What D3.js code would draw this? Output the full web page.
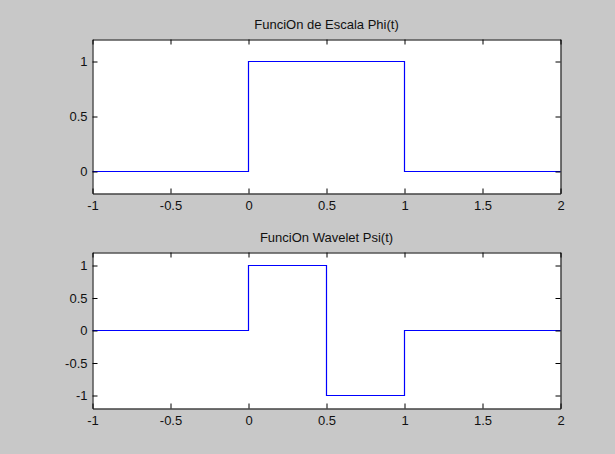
<!DOCTYPE html>
<html><head><meta charset="utf-8">
<script src="https://cdn.jsdelivr.net/npm/d3@7"></script>
<style>
html,body{margin:0;padding:0;background:#c8c8c8;}
svg{display:block;}
text{font-family:"Liberation Sans",Arial,sans-serif;font-size:13px;fill:#111;}
</style></head><body>
<script>
// Data
const titles = ["FunciOn de Escala Phi(t)", "FunciOn Wavelet Psi(t)"];
const phiT = [-1, 0, 0, 1, 1, 2];
const phiV = [0, 0, 1, 1, 0, 0];
const psiT = [-1, 0, 0, 0.5, 0.5, 1, 1, 2];
const psiV = [0, 0, 1, 1, -1, -1, 0, 0];
const xTicks = [-1, -0.5, 0, 0.5, 1, 1.5, 2];
const phiYTicks = [0, 0.5, 1];
const psiYTicks = [-1, -0.5, 0, 0.5, 1];
const phiYDomain = [-0.2, 1.2];
const psiYDomain = [-1.2, 1.2];

const W = 615, H = 454;
const svg = d3.select("body").append("svg").attr("width", W).attr("height", H);
svg.append("rect").attr("width", W).attr("height", H).attr("fill", "#c8c8c8");

const fmt = d => String(d);

function panel(top, bottom, t, v, yDom, yTicks, title) {
  const left = 92.5, right = 560.5;
  const x = d3.scaleLinear().domain([-1, 2]).range([left, right]);
  const y = d3.scaleLinear().domain(yDom).range([bottom, top]);
  const g = svg.append("g");
  g.append("rect").attr("x", left).attr("y", top).attr("width", right-left).attr("height", bottom-top)
    .attr("fill", "#fff");
  const line = d3.line().x((d,i)=>x(t[i])).y((d,i)=>y(v[i]));
  g.append("path").datum(v).attr("d", line).attr("fill","none").attr("stroke","#0000ff").attr("stroke-width",1.2);

  const axB = g.append("g").attr("transform",`translate(0,${bottom})`)
    .call(d3.axisBottom(x).tickValues(xTicks).tickFormat(fmt).tickSizeInner(-5).tickSizeOuter(0).tickPadding(7.5));
  const axT = g.append("g").attr("transform",`translate(0,${top})`)
    .call(d3.axisTop(x).tickValues(xTicks).tickFormat("").tickSizeInner(-5).tickSizeOuter(0));
  const axL = g.append("g").attr("transform",`translate(${left},0)`)
    .call(d3.axisLeft(y).tickValues(yTicks).tickFormat(fmt).tickSizeInner(-5).tickSizeOuter(0).tickPadding(5));
  const axR = g.append("g").attr("transform",`translate(${right},0)`)
    .call(d3.axisRight(y).tickValues(yTicks).tickFormat("").tickSizeInner(-5).tickSizeOuter(0));
  [axB,axT,axL,axR].forEach(a=>{
    a.selectAll("path").attr("stroke","#000");
    a.selectAll("line").attr("stroke","#000");
    a.selectAll("text").attr("fill","#111").style("font-size","13px").style("font-family","'Liberation Sans',Arial,sans-serif");
  });
  g.append("text").attr("x", (left+right)/2).attr("y", top-11).attr("text-anchor","middle").text(title);
}

panel(39.5, 193.5, phiT, phiV, phiYDomain, phiYTicks, titles[0]);
panel(252.5, 408.5, psiT, psiV, psiYDomain, psiYTicks, titles[1]);
</script>
</body></html>
